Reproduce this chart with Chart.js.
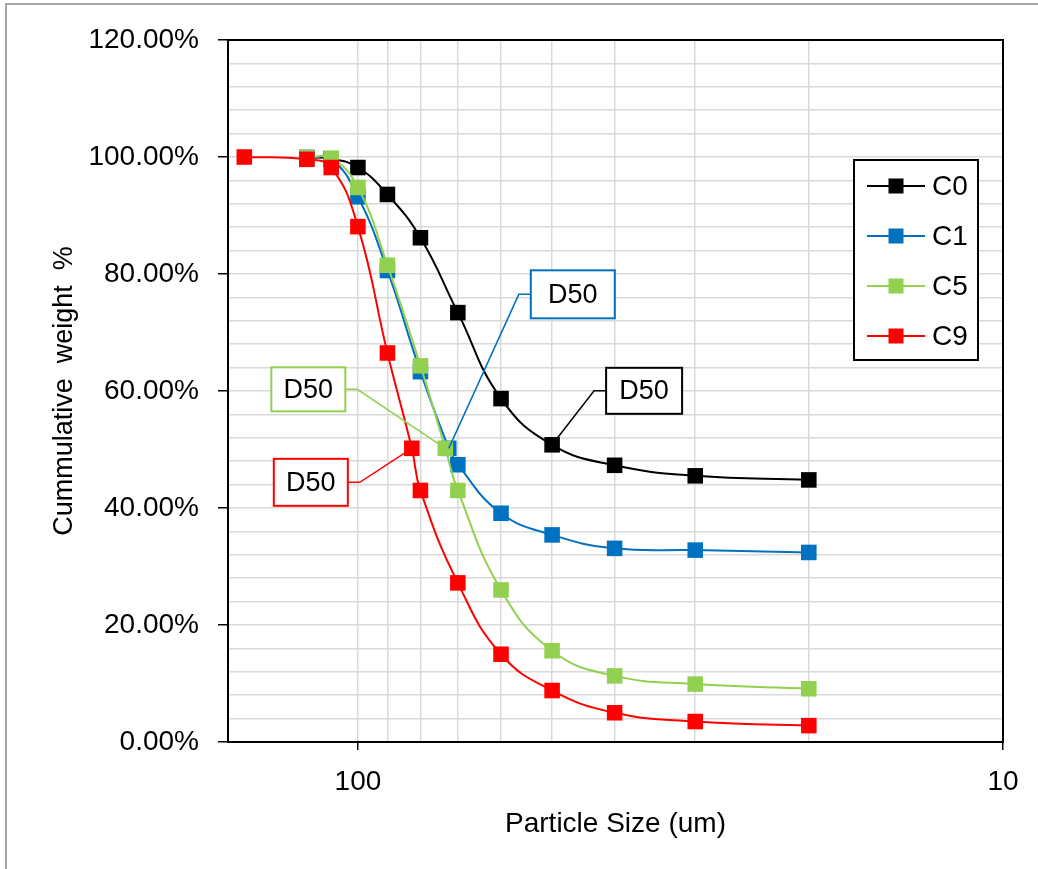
<!DOCTYPE html>
<html>
<head>
<meta charset="utf-8">
<title>Cumulative weight vs particle size</title>
<script src="https://cdn.jsdelivr.net/npm/chart.js@4.4.1/dist/chart.umd.min.js"></script>
<style>
  html, body { margin: 0; padding: 0; background: #fff; }
  #wrap { position: relative; width: 1038px; height: 869px; overflow: hidden; }
  #frame { position: absolute; left: 5px; top: 3px; width: 1100px; height: 900px;
           border-left: 2px solid #a6a6a6; border-top: 2px solid #a6a6a6; pointer-events: none; }
  canvas { position: absolute; left: 0; top: 0; }
</style>
</head>
<body>
<div id="wrap">
  <canvas id="psdChart" width="1038" height="869"></canvas>
  <div id="frame"></div>
</div>
<script>
// x axis gridline values (um), log scale, reversed
const xTickValues = [10, 20, 30, 40, 50, 60, 70, 80, 90, 100];
const xLabelValues = [10, 100];

const seriesNames = ['C0', 'C1', 'C5', 'C9'];
const seriesColors = ['#000000', '#0070C0', '#92D050', '#FF0000'];

// sieve sizes (um) and cumulative weight (%) per sample
const sizesC0 = [120, 110, 100, 90, 80, 70, 60, 50, 40, 30, 20];
const valuesC0 = [99.9, 99.7, 98.2, 93.6, 86.2, 73.4, 58.7, 50.8, 47.3, 45.5, 44.8];

const sizesC1 = [120, 110, 100, 90, 80, 72.3, 70, 60, 50, 40, 30, 20];
const valuesC1 = [99.9, 99.6, 93.2, 80.6, 63.3, 50.2, 47.4, 39.1, 35.4, 33.1, 32.8, 32.4];

const sizesC5 = [120, 110, 100, 90, 80, 73.2, 70, 60, 50, 40, 30, 20];
const valuesC5 = [99.9, 99.8, 94.8, 81.5, 64.3, 50.2, 43.0, 26.0, 15.6, 11.3, 9.9, 9.1];

const sizesC9 = [150, 120, 110, 100, 90, 82.5, 80, 70, 60, 50, 40, 30, 20];
const valuesC9 = [100, 99.6, 98.2, 88.1, 66.5, 50.2, 43.0, 27.2, 15.0, 8.8, 5.0, 3.5, 2.8];

// which point of each series carries the "D50" callout
const d50Index = [7, 5, 5, 5];
const d50Text = 'D50';

const allSizes = [sizesC0, sizesC1, sizesC5, sizesC9];
const allValues = [valuesC0, valuesC1, valuesC5, valuesC9];

const FONT = 'Liberation Sans, Arial, sans-serif';

function toPoints(sizes, values) {
    return sizes.map((s, i) => ({ x: s, y: values[i] }));
}

function isMajorY(v) {
    return Math.abs(v / 20 - Math.round(v / 20)) < 1e-6;
}

// callout boxes: offset of box centre from the point, box size
const calloutLayout = [
    { dx: 92, dy: -54, w: 76, h: 46 },
    { dx: 124, dy: -154, w: 84, h: 48 },
    { dx: -137, dy: -59, w: 74, h: 44 },
    { dx: -101, dy: 34, w: 74, h: 47 }
];

const calloutPlugin = {
    id: 'd50Callouts',
    afterDatasetsDraw(chart) {
        const ctx = chart.ctx;
        ctx.save();
        calloutLayout.forEach((lay, i) => {
            const meta = chart.getDatasetMeta(i);
            const pt = meta.data[d50Index[i]];
            const cx = pt.x + lay.dx, cy = pt.y + lay.dy;
            const left = cx - lay.w / 2, right = cx + lay.w / 2;
            const edgeX = lay.dx > 0 ? left : right;
            const elbowX = lay.dx > 0 ? left - 12 : right + 12;
            ctx.strokeStyle = seriesColors[i];
            ctx.lineWidth = 1.5;
            ctx.beginPath();
            ctx.moveTo(pt.x, pt.y);
            ctx.lineTo(elbowX, cy);
            ctx.lineTo(edgeX, cy);
            ctx.stroke();
            ctx.fillStyle = '#fff';
            ctx.fillRect(left, cy - lay.h / 2, lay.w, lay.h);
            ctx.lineWidth = 2;
            ctx.strokeRect(left, cy - lay.h / 2, lay.w, lay.h);
            ctx.fillStyle = '#000';
            ctx.font = '27px ' + FONT;
            ctx.textAlign = 'center';
            ctx.textBaseline = 'middle';
            ctx.fillText(d50Text, cx, cy + 1);
        });
        ctx.restore();
    }
};

// legend box drawn inside the plot area like the original
const legendPlugin = {
    id: 'boxLegend',
    afterDraw(chart) {
        const ctx = chart.ctx;
        const bx = 854, by = 160, bw = 124, bh = 200;
        ctx.save();
        ctx.fillStyle = '#fff';
        ctx.fillRect(bx, by, bw, bh);
        ctx.strokeStyle = '#000';
        ctx.lineWidth = 2;
        ctx.strokeRect(bx, by, bw, bh);
        seriesNames.forEach((name, i) => {
            const y = by + 26 + i * 50;
            ctx.strokeStyle = seriesColors[i];
            ctx.lineWidth = 2;
            ctx.beginPath();
            ctx.moveTo(bx + 13, y);
            ctx.lineTo(bx + 71, y);
            ctx.stroke();
            ctx.fillStyle = seriesColors[i];
            ctx.fillRect(bx + 42 - 7.5, y - 7.5, 15, 15);
            ctx.fillStyle = '#000';
            ctx.font = '28px ' + FONT;
            ctx.textAlign = 'left';
            ctx.textBaseline = 'middle';
            ctx.fillText(name, bx + 78, y + 1);
        });
        ctx.restore();
    }
};

// black frame round the plot area
const framePlugin = {
    id: 'plotFrame',
    beforeDatasetsDraw(chart) {
        const a = chart.chartArea;
        const ctx = chart.ctx;
        ctx.save();
        ctx.strokeStyle = '#000';
        ctx.lineWidth = 2;
        ctx.strokeRect(a.left, a.top, a.right - a.left, a.bottom - a.top);
        ctx.restore();
    }
};

const datasets = seriesNames.map((name, i) => ({
    label: name,
    data: toPoints(allSizes[i], allValues[i]),
    borderColor: seriesColors[i],
    backgroundColor: seriesColors[i],
    borderWidth: 2,
    pointStyle: 'rect',
    pointRadius: 11,
    pointHoverRadius: 11,
    pointBorderWidth: 0,
    pointBackgroundColor: seriesColors[i],
    tension: 0.45,
    order: seriesNames.length - i
}));

new Chart(document.getElementById('psdChart'), {
    type: 'line',
    data: { datasets: datasets },
    options: {
        responsive: false,
        animation: false,
        layout: { padding: { left: 0, top: 40, right: 35, bottom: 0 } },
        plugins: {
            legend: { display: false },
            tooltip: { enabled: false }
        },
        scales: {
            x: {
                type: 'logarithmic',
                reverse: true,
                min: 10,
                max: 159,
                afterFit: function(s) { s.height = 127; },
                afterBuildTicks: function(s) {
                    s.ticks = xTickValues.map(v => ({ value: v }));
                },
                border: { color: '#000', width: 2 },
                grid: {
                    color: '#d9d9d9',
                    lineWidth: 1.5,
                    tickLength: 8,
                    tickWidth: 1.5,
                    tickColor: c => (c.tick && xLabelValues.includes(c.tick.value)) ? '#000' : 'rgba(0,0,0,0)'
                },
                ticks: {
                    autoSkip: false,
                    maxRotation: 0,
                    padding: 15,
                    color: '#000',
                    font: { size: 28, family: FONT },
                    callback: v => xLabelValues.includes(v) ? String(v) : ''
                },
                title: {
                    display: true,
                    text: 'Particle Size (um)',
                    color: '#000',
                    font: { size: 28, family: FONT },
                    padding: { top: 0, bottom: 28 }
                }
            },
            y: {
                min: 0,
                max: 120,
                afterFit: function(s) { s.width = 228; },
                border: { color: '#000', width: 2 },
                grid: {
                    color: '#d9d9d9',
                    lineWidth: 1.5,
                    tickLength: 10,
                    tickWidth: 1.5,
                    tickColor: c => (c.tick && isMajorY(c.tick.value)) ? '#000' : 'rgba(0,0,0,0)'
                },
                ticks: {
                    stepSize: 4,
                    autoSkip: false,
                    padding: 19,
                    color: '#000',
                    font: { size: 28, family: FONT },
                    callback: v => isMajorY(v) ? v.toFixed(2) + '%' : ''
                },
                title: {
                    display: true,
                    text: 'Cummulative  weight  %',
                    color: '#000',
                    font: { size: 27, family: FONT },
                    padding: { top: 48, bottom: 0 }
                }
            }
        }
    },
    plugins: [framePlugin, calloutPlugin, legendPlugin]
});
</script>
</body>
</html>
